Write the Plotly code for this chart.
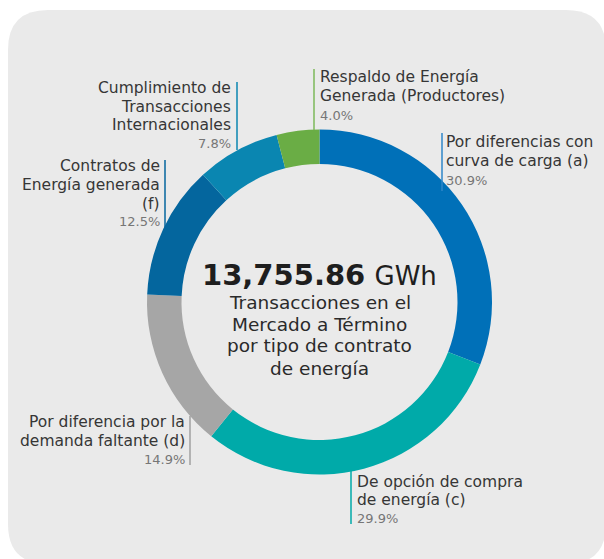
import plotly.graph_objects as go

W, H = 604, 559

# ---- data ----
categories = [
    "Por diferencias con curva de carga (a)",
    "De opción de compra de energía (c)",
    "Por diferencia por la demanda faltante (d)",
    "Contratos de Energía generada (f)",
    "Cumplimiento de Transacciones Internacionales",
    "Respaldo de Energía Generada (Productores)",
]
shares = [30.9, 29.9, 14.9, 12.5, 7.8, 4.0]
colors = ["#0070B8", "#00AAA9", "#A6A6A6", "#04669E", "#0A86B1", "#6AAD45"]
total_label = "13,755.86"
total_unit = "GWh"
center_lines = ["Transacciones en el", "Mercado a Término", "por tipo de contrato", "de energía"]

FONT = "DejaVu Sans"


def px(x):
    return x / W


def py(y):
    return 1 - y / H


# donut geometry (pixels)
cx, cy, R = 319.5, 302, 172.5

fig = go.Figure()
fig.add_trace(go.Pie(
    labels=categories,
    values=shares,
    sort=False,
    direction="clockwise",
    rotation=0,
    hole=0.80,
    marker=dict(colors=colors, line=dict(width=0)),
    textinfo="none",
    hoverinfo="label+percent",
    showlegend=False,
    domain=dict(x=[px(cx - R), px(cx + R)], y=[py(cy + R), py(cy - R)]),
))

# rounded panel
x0, y0, x1, y1, r = 8, 10, 606, 564, 40
path = (f"M {px(x0 + r)},{py(y0)} L {px(x1 - r)},{py(y0)} "
        f"Q {px(x1)},{py(y0)} {px(x1)},{py(y0 + r)} "
        f"L {px(x1)},{py(y1 - r)} Q {px(x1)},{py(y1)} {px(x1 - r)},{py(y1)} "
        f"L {px(x0 + r)},{py(y1)} Q {px(x0)},{py(y1)} {px(x0)},{py(y1 - r)} "
        f"L {px(x0)},{py(y0 + r)} Q {px(x0)},{py(y0)} {px(x0 + r)},{py(y0)} Z")
shapes = [dict(type="path", path=path, xref="paper", yref="paper",
               fillcolor="#EAEAEA", line=dict(width=0), layer="below")]

# leader lines: (x, y_top, y_bottom, color)
leaders = [
    (442, 133, 191, "#2E86C8"),
    (351, 466, 524, "#00AAA9"),
    (190, 416, 465, "#A0A0A0"),
    (165, 160, 228, "#04669E"),
    (237, 82, 150, "#0A86B1"),
    (314, 69, 130, "#7DB85A"),
]
for lx, ya, yb, c in leaders:
    shapes.append(dict(type="line", xref="paper", yref="paper",
                       x0=px(lx), x1=px(lx), y0=py(ya), y1=py(yb),
                       line=dict(color=c, width=1.5)))

# label texts: (lines, line centers y, pct center y, x, align)
label_lines = [
    (["Por diferencias con", "curva de carga (a)"], [142, 161], 180, 445, "left"),
    (["De opción de compra", "de energía (c)"], [482, 500], 518, 356, "left"),
    (["Por diferencia por la", "demanda faltante (d)"], [422, 441], 459, 186, "right"),
    (["Contratos de", "Energía generada", "(f)"], [166, 185, 204], 221, 161, "right"),
    (["Cumplimiento de", "Transacciones", "Internacionales"], [88, 107, 125], 143, 232, "right"),
    (["Respaldo de Energía", "Generada (Productores)"], [77, 96], 115, 319, "left"),
]

annotations = []
for (lines, ys, ypct, lx, al), v in zip(label_lines, shares):
    xa = "left" if al == "left" else "right"
    for t, yy in zip(lines, ys):
        annotations.append(dict(
            text=t, x=px(lx), y=py(yy), xref="paper", yref="paper",
            xanchor=xa, yanchor="middle", showarrow=False, borderpad=0,
            font=dict(family=FONT, size=15.5, color="#363636"),
        ))
    annotations.append(dict(
        text=f"{v:.1f}%", x=px(lx), y=py(ypct), xref="paper", yref="paper",
        xanchor=xa, yanchor="middle", showarrow=False, borderpad=0,
        font=dict(family=FONT, size=13, color="#767676"),
    ))

annotations.append(dict(
    text=f"<b>{total_label}</b> <span style='font-size:26px'>{total_unit}</span>",
    x=px(cx), y=py(275), xref="paper", yref="paper",
    xanchor="center", yanchor="middle", showarrow=False, borderpad=0,
    font=dict(family=FONT, size=29, color="#1E1E1E"),
))
for t, yy in zip(center_lines, [302, 324, 346, 368]):
    annotations.append(dict(
        text=t, x=px(cx), y=py(yy), xref="paper", yref="paper",
        xanchor="center", yanchor="middle", showarrow=False, borderpad=0,
        font=dict(family=FONT, size=18.5, color="#2A2A2A"),
    ))

fig.update_layout(
    width=W, height=H,
    margin=dict(l=0, r=0, t=0, b=0),
    paper_bgcolor="white",
    plot_bgcolor="rgba(0,0,0,0)",
    shapes=shapes,
    annotations=annotations,
    showlegend=False,
)

fig.write_html("out.html", config={"displayModeBar": False},
               post_script="document.body.style.margin='0';")
